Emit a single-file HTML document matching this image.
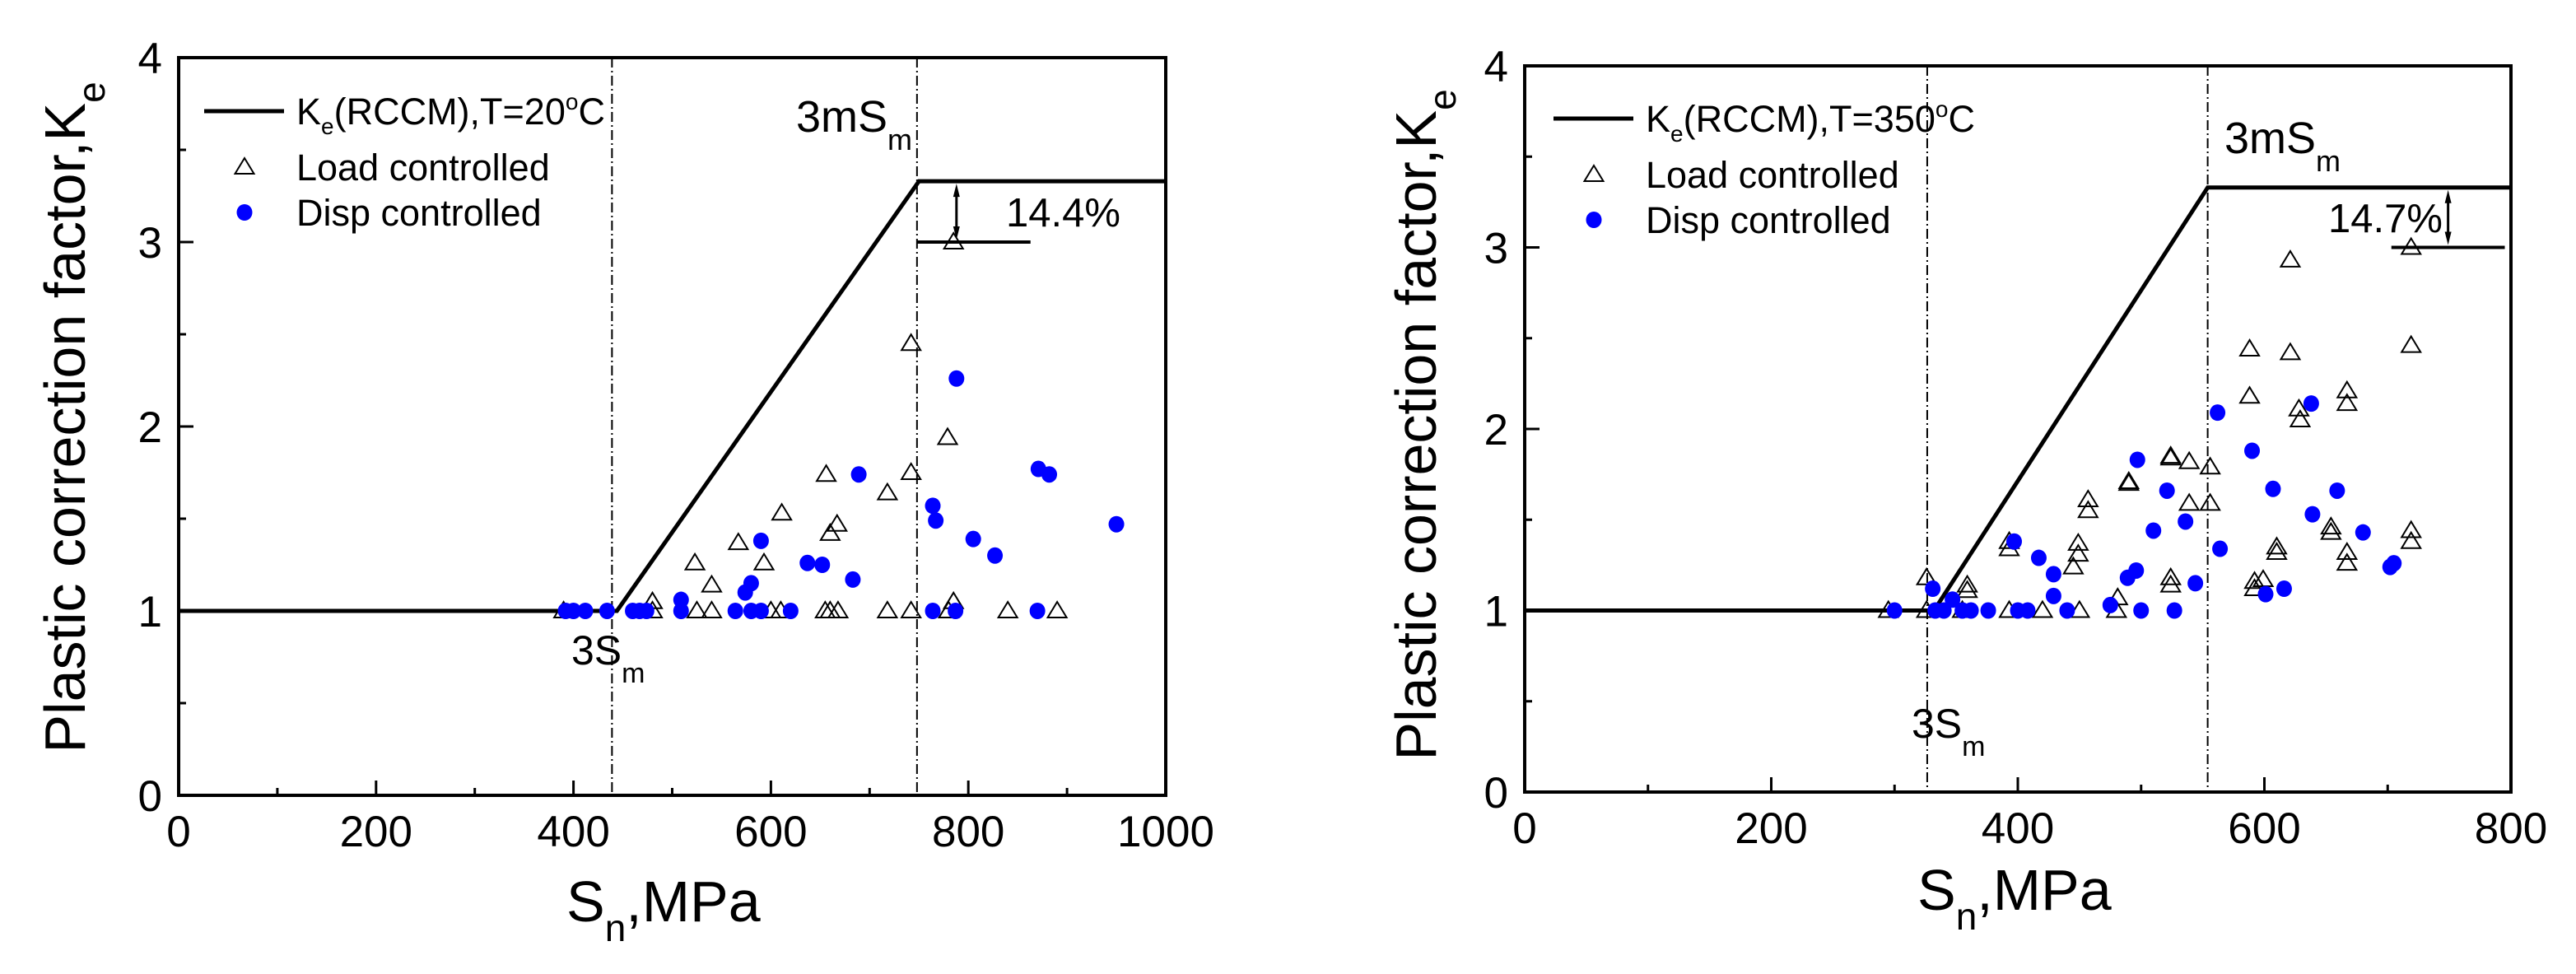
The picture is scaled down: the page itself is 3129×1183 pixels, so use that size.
<!DOCTYPE html>
<html><head><meta charset="utf-8"><style>
html,body{margin:0;padding:0;background:#fff}
svg{display:block}
text{font-family:"Liberation Sans",sans-serif;fill:#000}
</style></head><body>
<svg id="chart" width="3129" height="1183" viewBox="0 0 3129 1183" xmlns="http://www.w3.org/2000/svg"></svg>
<script>
// Left panel data (T=20C)
const leftXTicks = [0,200,400,600,800,1000];
const leftYTicks = [0,1,2,3,4];
const leftRccmX = [0,444,750,1000];
const leftRccmY = [1,1,3.33,3.33];
const leftLoadX = [656,742,742,779,718,611,667,660,567,523,593,540,785,785,480,390,480,525,540,600,610,655,660,668,718,742,780,840,890];
const leftLoadY = [1.74,1.75,2.45,1.94,1.64,1.53,1.47,1.42,1.37,1.26,1.26,1.14,3.0,1.05,1.05,1,1,1,1,1,1,1,1,1,1,1,1,1,1];
const leftDispX = [788,689,871,882,764,767,805,827,950,590,637,652,683,580,574,509,392,400,412,434,460,467,474,509,564,580,590,620,764,787,870];
const leftDispY = [2.26,1.74,1.77,1.74,1.57,1.49,1.39,1.30,1.47,1.38,1.26,1.25,1.17,1.15,1.10,1.06,1,1,1,1,1,1,1,1,1,1,1,1,1,1,1];
// Right panel data (T=350C)
const rightXTicks = [0,200,400,600,800];
const rightYTicks = [0,1,2,3,4];
const rightRccmX = [0,332,554,800];
const rightRccmY = [1,1,3.33,3.33];
const rightLoadX = [719,621,719,588,621,588,667,667,628,629,524,524,539,556,490,490,457,457,539,556,654,654,719,719,393,393,449,449,445,610,610,667,667,524,524,592,592,599,326,359,359,481,295,326,355,393,420,450,480];
const rightLoadY = [3.0,2.93,2.46,2.44,2.42,2.18,2.21,2.14,2.11,2.05,1.85,1.84,1.82,1.79,1.71,1.70,1.61,1.55,1.59,1.59,1.46,1.43,1.44,1.38,1.38,1.34,1.37,1.31,1.24,1.35,1.32,1.32,1.26,1.18,1.14,1.16,1.12,1.17,1.18,1.14,1.11,1.07,1,1,1,1,1,1,1];
const rightDispX = [562,638,590,497,607,521,659,536,639,510,680,397,564,417,429,496,489,544,705,702,331,616,601,429,347,475,300,333,340,355,362,376,400,408,440,500,527];
const rightDispY = [2.09,2.14,1.88,1.83,1.67,1.66,1.66,1.49,1.53,1.44,1.43,1.38,1.34,1.29,1.20,1.22,1.18,1.15,1.26,1.24,1.12,1.12,1.09,1.08,1.06,1.03,1,1,1,1,1,1,1,1,1,1,1];

const NS='http://www.w3.org/2000/svg';
const svg=document.getElementById('chart');
function mk(tag,attrs,parent,txt){const e=document.createElementNS(NS,tag);for(const k in attrs)e.setAttribute(k,attrs[k]);if(txt!==undefined)e.textContent=txt;(parent||svg).appendChild(e);return e;}

function panel(c){
  const g=mk('g',{});
  
  
  const sx=v=>c.x0+(v-c.xmin)/(c.xmax-c.xmin)*(c.x1-c.x0);
  const sy=v=>c.y0-(v/4)*(c.y0-c.y1);
  // ticks
  const ticks=mk('g',{},g);
  
  
  const xstep=c.xTicks[1]-c.xTicks[0];
  for(let v=c.xmin; v<=c.xmax+1e-6; v+=xstep/2){
    const major=Math.abs((v/xstep)-Math.round(v/xstep))<1e-6;
    mk('line',{x1:sx(v),x2:sx(v),y1:c.y0,y2:c.y0-(major?18:9),stroke:'#000','stroke-width':3},ticks);
  }
  for(let v=0; v<=4+1e-6; v+=0.5){
    const major=Math.abs(v-Math.round(v))<1e-6;
    mk('line',{x1:c.x0,x2:c.x0+(major?18:9),y1:sy(v),y2:sy(v),stroke:'#000','stroke-width':3},ticks);
  }
  c.xTicks.forEach(v=>{const t=mk('text',{x:sx(v),y:c.xLabY,'font-size':53,'text-anchor':'middle'},g,String(v));
    
    });
  c.yTicks.forEach(v=>{const t=mk('text',{x:c.x0-20,y:sy(v)+19,'font-size':53,'text-anchor':'end'},g,String(v));
    
    });
  // dash-dot verticals
  c.vlines.forEach(v=>{const l=mk('line',{x1:sx(v),x2:sx(v),y1:c.y1,y2:c.y0,stroke:'#000','stroke-width':2,'stroke-dasharray':'12,4,2,4'},g);
    
    });
  // RCCM line
  const pts=c.rx.map((v,i)=>sx(v)+','+sy(c.ry[i])).join(' ');
  const pl=mk('polyline',{points:pts,fill:'none',stroke:'#000','stroke-width':5},g);
  
  
  // bracket
  const br=mk('g',{},g);
  
  
  mk('line',{x1:sx(c.brX0),x2:sx(c.brX1),y1:sy(3),y2:sy(3),stroke:'#000','stroke-width':4},br);
  const ax=sx(c.arX), ya=sy(3.33)+3, yb=sy(3)-3;
  mk('line',{x1:ax,x2:ax,y1:ya+12,y2:yb-12,stroke:'#000','stroke-width':3},br);
  mk('polygon',{points:`${ax},${ya} ${ax-4},${ya+16} ${ax+4},${ya+16}`,fill:'#000'},br);
  mk('polygon',{points:`${ax},${yb} ${ax-4},${yb-16} ${ax+4},${yb-16}`,fill:'#000'},br);
  mk('text',{x:c.pctX,y:c.pctY,'font-size':49},br,c.pct);
  // markers
  c.lx.forEach((v,i)=>{const x=sx(v),y=sy(c.ly[i]);
    const m=mk('polygon',{points:`${x},${y-11} ${x-11.5},${y+8} ${x+11.5},${y+8}`,fill:'none',stroke:'#000','stroke-width':2},g);
    
    });
  c.dx.forEach((v,i)=>{
    const m=mk('ellipse',{cx:sx(v),cy:sy(c.dy[i]),rx:9.5,ry:10,fill:'#0000ff'},g);
    
    });
  // frame
  const fr=mk('rect',{x:c.x0,y:c.y1,width:c.x1-c.x0,height:c.y0-c.y1,fill:'none',stroke:'#000','stroke-width':4},g);
  
  
  // labels
  const t1=mk('text',{x:c.m3X,y:c.m3Y,'font-size':54},g);
  
  
  t1.innerHTML='3mS<tspan dy="22" font-size="36">m</tspan>';
  const t2=mk('text',{x:c.s3X,y:c.s3Y,'font-size':50},g);
  
  
  t2.innerHTML='3S<tspan dy="22" font-size="34">m</tspan>';
  // legend
  const lg=mk('g',{},g);
  
  
  mk('line',{x1:c.lgX,x2:c.lgX+97,y1:c.lgY,y2:c.lgY,stroke:'#000','stroke-width':5},lg);
  const lt=mk('text',{x:c.lgX+112,y:c.lgY+16,'font-size':45},lg);
  lt.innerHTML='K<tspan dy="12" font-size="28">e</tspan><tspan dy="-12">(RCCM),T='+c.temp+'</tspan><tspan dy="-18" font-size="28">o</tspan><tspan dy="18">C</tspan>';
  const tx=c.lgX+49, ty=c.lgY+68;
  mk('polygon',{points:`${tx},${ty-11} ${tx-11.5},${ty+8} ${tx+11.5},${ty+8}`,fill:'none',stroke:'#000','stroke-width':2},lg);
  mk('text',{x:c.lgX+112,y:ty+16,'font-size':45},lg,'Load controlled');
  mk('ellipse',{cx:tx,cy:c.lgY+123,rx:9.5,ry:10,fill:'#0000ff'},lg);
  mk('text',{x:c.lgX+112,y:c.lgY+139,'font-size':45,'xml:space':'preserve'},lg,c.dispTxt);
  // axis titles
  const xt=mk('text',{x:c.xtX,y:c.xtY,'font-size':70},g);
  
  
  xt.innerHTML='S<tspan dy="24" font-size="46">n</tspan><tspan dy="-24">,MPa</tspan>';
  const yt=mk('text',{x:0,y:0,'font-size':70,'text-anchor':'middle',transform:`translate(${c.ytX},${c.ytY}) rotate(-90)`},g);
  
  
  yt.innerHTML='Plastic correction factor,K<tspan dy="24" font-size="46">e</tspan>';
}

panel({name:'left-panel-20c',x0:217,x1:1416,y0:966,y1:70,xmin:0,xmax:1000,xTicks:leftXTicks,yTicks:leftYTicks,xLabY:1028,
  vlines:[439,748],rx:leftRccmX,ry:leftRccmY,brX0:748,brX1:863,arX:788,pct:'14.4%',pctX:1222,pctY:275,
  lx:leftLoadX,ly:leftLoadY,dx:leftDispX,dy:leftDispY,m3X:967,m3Y:160,s3X:694,s3Y:807,
  lgX:248,lgY:135,temp:'20',dispTxt:'Disp controlled',xtX:688,xtY:1119,ytX:103,ytY:507});
panel({name:'right-panel-350c',x0:1852,x1:3050,y0:962,y1:80,xmin:0,xmax:800,xTicks:rightXTicks,yTicks:rightYTicks,xLabY:1024,
  vlines:[326.5,554],rx:rightRccmX,ry:rightRccmY,brX0:703,brX1:795,arX:749,pct:'14.7%',pctX:2828,pctY:282,
  lx:rightLoadX,ly:rightLoadY,dx:rightDispX,dy:rightDispY,m3X:2702,m3Y:186,s3X:2322,s3Y:896,
  lgX:1887,lgY:144,temp:'350',dispTxt:'Disp  controlled',xtX:2329,xtY:1105,ytX:1744,ytY:516});
</script>
</body></html>
